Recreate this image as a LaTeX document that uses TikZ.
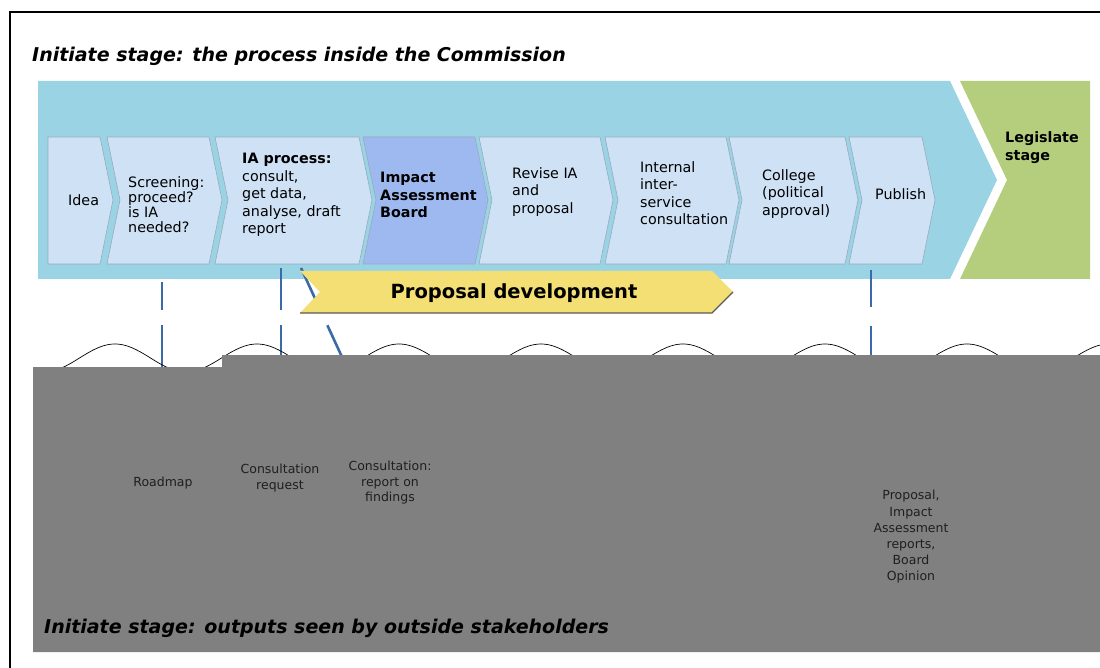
\documentclass[tikz,border=0pt]{standalone}
\usepackage{fontspec}
\setmainfont{DejaVu Sans}

\definecolor{bandblue}{HTML}{9AD3E3}
\definecolor{chevfill}{HTML}{CFE1F5}
\definecolor{chevline}{HTML}{98AABD}
\definecolor{iabfill}{HTML}{9EB9EF}
\definecolor{legigreen}{HTML}{B5CE7D}
\definecolor{propyellow}{HTML}{F3DF74}
\definecolor{outgray}{HTML}{808080}
\definecolor{linkblue}{HTML}{3B6AA8}

\pgfdeclarelayer{front}
\pgfsetlayers{main,front}

\tikzset{
  chevtext/.style={inner sep=0pt, anchor=west, align=left, font=\fontsize{14.3}{17.5}\selectfont},
  outtext/.style={inner sep=0pt, align=center, text=black!88, font=\fontsize{12.5}{15.5}\selectfont},
  heading/.style={inner sep=0pt, anchor=west, font=\fontsize{19}{22}\selectfont\bfseries\itshape},
  link/.style={linkblue, line width=2.6pt},
}

\begin{document}
\begin{tikzpicture}[x=1pt, y=-1pt]
    \useasboundingbox (0,0) rectangle (1100,668);

    % outputs seen from outside, on top of everything
    \begin{pgfonlayer}{front}
    \fill[outgray] (33,367) -- (222,367) -- (222,355) -- (1100,355) -- (1100,652) -- (33,652) -- cycle;
    \node[outtext] (roadmap) at (163,483) {Roadmap};
    \node[outtext] (creq) at (280,478) {Consultation\\request};
    \node[outtext] (find) at (390,483) {Consultation:\\report on\\findings};
    \node[outtext, font=\fontsize{12.5}{16.2}\selectfont] (outp) at (911,537) {Proposal,\\Impact\\Assessment\\reports,\\Board\\Opinion};
    \node[heading] (outtitle) at (44,628) {Initiate stage: outputs seen by outside stakeholders};
    \end{pgfonlayer}

    % frame and title
    \draw[line width=1.8pt] (10,668) -- (10,12) -- (1100,12);
    \node[heading] (title) at (32,56) {Initiate stage: the process inside the Commission};

    % initiate band and legislate stage
    \fill[bandblue] (38,81) -- (950,81) -- (997,180) -- (950,279) -- (38,279) -- cycle;
    \fill[legigreen] (960,81) -- (1090,81) -- (1090,279) -- (960,279) -- (1007,180) -- cycle;
    \node[chevtext, anchor=north west, font=\fontsize{14.3}{18}\selectfont\bfseries] (legis) at (1005,131) {Legislate\\stage};

    % process steps
    \foreach \l/\r/\d/\col in {48/113/0/chevfill, 107/222/13/chevfill, 215/372/13/chevfill,
        363/488/13/iabfill, 479/613/13/chevfill, 605/739/13/chevfill, 729/858/13/chevfill, 849/935/13/chevfill}
        \filldraw[fill=\col, draw=chevline, line width=0.6pt] (\l,137) -- ({\r-13},137) -- (\r,200)
            -- ({\r-13},264) -- (\l,264) -- ({\l+\d},200) -- cycle;

    \node[chevtext] (idea) at (68,200) {Idea};
    \node[chevtext, font=\fontsize{14.3}{15}\selectfont] (screen) at (128,205) {Screening:\\proceed?\\is IA\\needed?};
    \node[chevtext] (iaproc) at (242,195) {\textbf{IA process:}\\consult,\\get data,\\analyse, draft\\report};
    \node[chevtext, font=\fontsize{14.3}{17.5}\selectfont\bfseries] (iab) at (380,195) {Impact\\Assessment\\Board};
    \node[chevtext] (revise) at (512,192) {Revise IA\\and\\proposal};
    \node[chevtext] (isc) at (640,193) {Internal\\inter-\\service\\consultation};
    \node[chevtext] (college) at (762,194) {College\\(political\\approval)};
    \node[chevtext] (publish) at (875,194) {Publish};

    % links from the steps down to the outputs
    \coordinate (s-road) at (162,282);
    \coordinate (s-creq) at (281,268);
    \coordinate (s-find) at (301,268);
    \coordinate (s-pub) at (871,270);
    \draw[link, dash pattern=on 28pt off 15pt on 400pt] (s-road) -- (s-road |- roadmap.north);
    \draw[link, dash pattern=on 42pt off 15pt on 400pt] (s-creq) -- (s-creq |- creq.north);
    \draw[link, dash pattern=on 46pt off 17pt on 400pt] (s-find) -- (find.north);
    \draw[link, dash pattern=on 37pt off 19pt on 400pt] (s-pub) -- (s-pub |- outp.north);

    % proposal development
    \fill[propyellow] (300,271) -- (712,271) -- (733,292) -- (712,313) -- (300,313) -- (320,292) -- cycle;
    \draw[black!65, line width=1.2pt] (300,313) -- (712,313) -- (733,292);
    \node[inner sep=0pt, font=\fontsize{19.5}{22}\selectfont\bfseries] (propdev) at (514,293) {Proposal development};

    % wave
    \draw[line width=0.7pt] plot[domain=40:1100, samples=400] (\x, {358-14*cos((\x-115)/142*360)});
\end{tikzpicture}
\end{document}
